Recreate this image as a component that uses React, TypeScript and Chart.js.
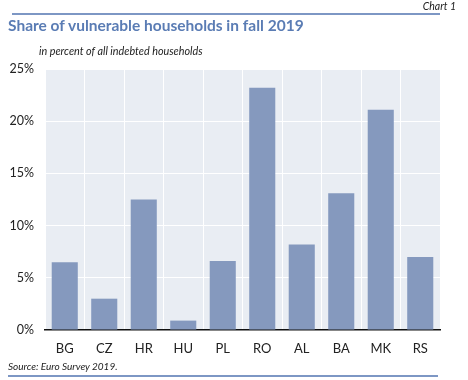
import React, { useEffect, useRef } from "react";
import { Chart, registerables } from "chart.js";

Chart.register(...registerables);

const categories = ["BG", "CZ", "HR", "HU", "PL", "RO", "AL", "BA", "MK", "RS"];
const shareValues = [6.5, 3.0, 12.5, 0.9, 6.6, 23.2, 8.2, 13.1, 21.1, 7.0];
const yTicks = [0, 5, 10, 15, 20, 25];

const FONT = "Lato, 'Open Sans', sans-serif";

const plotBg = {
  id: "plotBg",
  beforeDraw(chart: any) {
    const { ctx, chartArea } = chart;
    if (!chartArea) return;
    ctx.save();
    ctx.fillStyle = "#e9edf3";
    ctx.fillRect(chartArea.left, chartArea.top, chartArea.right - chartArea.left, chartArea.bottom - chartArea.top);
    ctx.restore();
  },
};

export default function App() {
  const ref = useRef<HTMLCanvasElement>(null);
  useEffect(() => {
    if (!ref.current) return;
    const chart = new Chart(ref.current, {
      type: "bar",
      data: {
        labels: categories,
        datasets: [
          {
            data: shareValues,
            backgroundColor: "#8599be",
            borderWidth: 0,
            barPercentage: 0.66,
            categoryPercentage: 1,
          },
        ],
      },
      options: {
        animation: false,
        responsive: false,
        maintainAspectRatio: false,
        layout: { padding: { top: 69, right: 28, bottom: 0, left: 0 } },
        plugins: { legend: { display: false }, tooltip: { enabled: false } },
        scales: {
          x: {
            afterFit: (s: any) => {
              s.height = 50;
            },
            grid: { color: "#ffffff", lineWidth: 1, offset: true, drawTicks: false },
            border: { display: true, color: "#111111", width: 1.5 },
            ticks: { color: "#222", font: { family: FONT, size: 13 }, padding: 11 },
          },
          y: {
            min: 0,
            max: 25,
            afterFit: (s: any) => {
              s.width = 45;
            },
            afterBuildTicks: (s: any) => {
              s.ticks = yTicks.map((v) => ({ value: v }));
            },
            grid: { color: "#ffffff", lineWidth: 1, drawTicks: false },
            border: { display: false },
            ticks: {
              color: "#222",
              font: { family: FONT, size: 12.5 },
              padding: 11,
              callback: (v: any) => v + "%",
            },
          },
        },
      },
      plugins: [plotBg],
    });
    return () => chart.destroy();
  }, []);

  const text: React.CSSProperties = { position: "absolute", fontFamily: FONT, whiteSpace: "nowrap", margin: 0 };
  return (
    <div style={{ position: "absolute", left: 0, top: 0, width: 468, height: 380, background: "#fff", overflow: "hidden" }}>
      <canvas ref={ref} width={468} height={380} style={{ position: "absolute", left: 0, top: 0, width: 468, height: 380 }} />
      <div style={{ ...text, right: 12, top: 0, fontSize: 10.5, fontStyle: "italic", color: "#222" }}>Chart 1</div>
      <div style={{ position: "absolute", left: 12, top: 13, width: 428, height: 2, background: "#7d97c4" }} />
      <div style={{ ...text, left: 8, top: 16, fontSize: 15.5, fontWeight: "bold", color: "#5a7cb4" }}>
        Share of vulnerable households in fall 2019
      </div>
      <div style={{ ...text, left: 39, top: 44, fontSize: 10.8, fontStyle: "italic", color: "#222" }}>
        in percent of all indebted households
      </div>
      <div style={{ ...text, left: 8, top: 360, fontSize: 10, fontStyle: "italic", color: "#222" }}>Source: Euro Survey 2019.</div>
      <div style={{ position: "absolute", left: 8, top: 375, width: 430, height: 2, background: "#7d97c4" }} />
    </div>
  );
}
